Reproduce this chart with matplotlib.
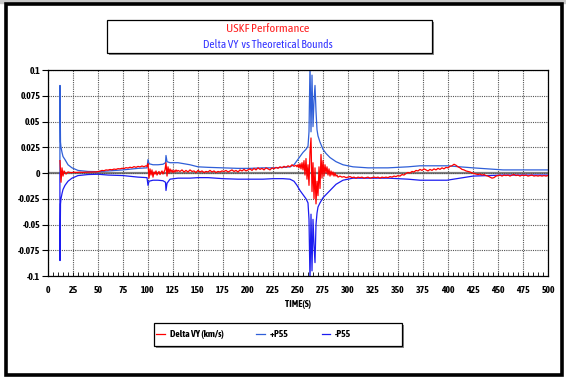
import numpy as np
import matplotlib
matplotlib.use('Agg')
import matplotlib.pyplot as plt
from matplotlib.patches import Rectangle
from matplotlib.ticker import MultipleLocator, FuncFormatter

# Delta VY (valeurs en 1e-3 km/s), par tronçons de pas de temps
dv_t_a = np.arange(12, 16, 1)
dv_a = [12, -9, 5, -3]
dv_t_b = np.arange(16, 100, 2)
dv_b = [2, -1, 1, 0.5, 0.4, 0.8, 0.5, 0.6, 0.8, 0.6, 0.7, 0.9, 0.8, 1.0, 0.9, 1.1, 1.0,
        1.4, 1.8, 2.5, 2.2, 3.0, 2.8, 3.4, 3.1, 3.8, 3.5, 4.2, 4.0, 4.6, 4.3, 5.2, 4.8,
        5.6, 5.1, 6.2, 5.5, 6.4, 5.9, 6.8, 6.1, 7.0]
dv_t_c = np.arange(99, 131, 1)
dv_c = [6.5, 9, -5, 4, -2, 3, -4, 1, -1, 2, -2, 0, 1.5, -1.5, 0.5, 2, -1, 1, 3, 10, -3,
        6, 0, 4, 1, 3, 0.5, 2.5, 1, 3, 1.5, 2.5]
dv_t_d = np.arange(132, 249, 2)
dv_d = [1.5, 3, 1, 2.5, 1, 3, 1.5, 2, 0.5, 2.5, 1, 2, 0.5, 1.5, 1, 2.5, 1, 2, 0.5, 1.5,
        1, 2, 1.5, 2.5, 1, 2, 3, 1.5, 2.5, 1, 3, 2, 3.5, 2, 3, 4, 2.5, 4.5, 3, 5, 3.5,
        4.5, 3, 5, 4, 3, 5, 4, 5.5, 4.5, 6, 5, 6.5, 5.5, 7, 6, 8, 6.5, 7.5]
dv_t_e = np.arange(249, 291, 1)
dv_e = [6, 8, 5, 9, 4, 10, 3, 12, -2, 14, -6, 8, -12, 20, 34, -18, 10, -25, 5, -30, -8,
        -22, 6, -15, 18, -5, 12, -3, 8, 0, 6, -2, 4, -3, 2, -2, 1, -3, 0, -3, -2, -4]
dv_t_f = np.arange(292, 501, 2)
dv_f = [-3, -4, -3.5, -4.5, -4, -3.5, -4.5, -4, -5, -4, -4.5, -4, -5, -4.5, -4, -5, -4.5,
        -4, -4.5, -4, -5, -4, -4.5, -4, -4.5, -3.5, -4, -3, -3.5, -2.5, -3, -1.5, -2,
        -0.5, 0.5, 0, 1.5, 1, 2.5, 2, 3.5, 2.5, 4, 3, 2, 3.5, 2.5, 4, 3, 4.5, 3.5, 5, 4,
        5.5, 5, 6.5, 7, 8.5, 7.5, 6, 5, 3.5, 3, 2, 1.5, 1, 0, -0.5, -1, -1.5, -1, -2,
        -1.5, -2.5, -3, -4, -5, -4.5, -3, -2.5, -2, -3, -2, -2.5, -2, -3, -2, -1.5, -2.5,
        -2, -3, -2, -2.5, -2, -3, -2.5, -2, -3, -2.5, -3, -2.5, -3, -2.5, -3, -2.5]

# bornes théoriques (1e-3 km/s)
bnd_t = [11.9, 12, 12.5, 13, 14, 15, 17, 20, 24, 30, 40, 50, 60, 75, 90, 99, 100, 101,
         105, 110, 115, 117.5, 118, 119, 122, 130, 142, 150, 160, 175, 190, 202, 215,
         225, 235, 242, 246, 249, 252, 255, 258, 260, 261, 262, 263, 264, 265, 266, 267,
         268, 269, 270, 272, 275, 278, 282, 288, 295, 305, 320, 340, 360, 372, 385, 399,
         412, 425, 440, 455, 475, 500]
p55 = [0, 85, 30, 25, 20, 16, 13, 8, 5, 2.5, 1.5, 1.3, 2, 3, 4.5, 5, 13, 9, 8, 8, 8.5,
       10, 17, 11, 10, 10, 8, 6, 5.5, 5, 4.5, 4.5, 5, 5, 5.5, 6, 8, 12, 16, 20, 23, 26,
       40, 105, 40, 95, 45, 70, 85, 60, 42, 36, 30, 23, 19, 15, 11, 8, 6, 5, 5, 6, 7, 7,
       7, 6, 5, 4, 3, 3, 3]
m55 = [0, -85, -30, -25, -20, -16, -12, -8, -5, -2.5, -1.5, -1.2, -2, -2.5, -4, -4.5,
       -12, -8, -7, -7, -7.5, -9, -17, -10, -6, -5, -5, -4.5, -4.5, -5.5, -6, -6, -6,
       -5.5, -5.5, -6, -8, -12, -17, -21, -25, -29, -45, -105, -40, -95, -45, -70, -87,
       -50, -39, -33, -29, -24, -21, -17, -11, -7, -5, -5, -5, -6, -7, -7, -7, -5, -3,
       -2.5, -2, -2, -2]

x_ticks = np.arange(0, 501, 25)
y_ticks = np.arange(-0.1, 0.1001, 0.025)

dv_t = np.concatenate([dv_t_a, dv_t_b, dv_t_c, dv_t_d, dv_t_e, dv_t_f])
dv = np.array(dv_a + dv_b + dv_c + dv_d + dv_e + dv_f) * 1e-3
p55 = np.array(p55) * 1e-3
m55 = np.array(m55) * 1e-3

plt.rcParams['font.family'] = ['Asap Condensed', 'Archivo Narrow', 'DejaVu Sans']

W, H = 566, 378
fig = plt.figure(figsize=(W / 100, H / 100), dpi=100)


def box(x0, y0, w, h, z=1):
    # cadre blanc avec ombre grise décalée (en pixels depuis le coin haut gauche)
    fig.patches.append(Rectangle(((x0 + 2) / W, 1 - (y0 + h + 2) / H), w / W, h / H,
                                 transform=fig.transFigure, fc='#8a8a8a', ec='none', zorder=z))
    fig.patches.append(Rectangle((x0 / W, 1 - (y0 + h) / H), w / W, h / H,
                                 transform=fig.transFigure, fc='white', ec='black',
                                 lw=0.9, zorder=z + 1))


# bande grise en haut + cadre noir
fig.patches.append(Rectangle((0, 1 - 3 / H), 1, 3 / H, transform=fig.transFigure,
                             color='#c8c8c8', zorder=0))
fig.patches.append(Rectangle((6 / W, 3 / H), 556 / W, 371 / H, transform=fig.transFigure,
                             fill=False, lw=2.6, ec='black', zorder=1))

box(107, 20, 325, 33)
fig.text(268 / W, 1 - 28 / H, 'USKF Performance', color='#ff2020', fontsize=8.8,
         ha='center', va='center', zorder=3)
fig.text(268 / W, 1 - 45 / H, 'Delta VY  vs Theoretical Bounds', color='#3333ff',
         fontsize=8.2, ha='center', va='center', zorder=3)

ax = fig.add_axes([48 / W, 1 - 276 / H, 500 / W, 206 / H])
ax.axhline(0, color='#808080', lw=1.6, zorder=1)
l1, = ax.plot(dv_t, dv, color='#ff0000', lw=0.9, label='Delta VY (km/s)', zorder=3)
l2, = ax.plot(bnd_t, p55, color='#2f5fd8', lw=0.9, label='+P55', zorder=2)
l3, = ax.plot(bnd_t, m55, color='#1c1cf0', lw=0.9, label='-P55', zorder=2)

ax.set_xlim(0, 500)
ax.set_ylim(-0.1, 0.1)
ax.set_xticks(x_ticks)
ax.set_yticks(y_ticks)
ax.xaxis.set_minor_locator(MultipleLocator(5))
ax.yaxis.set_major_formatter(FuncFormatter(lambda v, p: '0' if abs(v) < 1e-9 else f'{round(v, 3):g}'))
ax.grid(True, which='major', color='#555555', lw=0.8, ls=(0, (1, 1)))
ax.tick_params(axis='x', which='both', direction='in', length=3, width=0.6, pad=7,
               labelsize=7)
ax.tick_params(axis='y', which='major', direction='out', length=4, width=0.8, pad=1.5,
               labelsize=7)
for lab in ax.get_xticklabels() + ax.get_yticklabels():
    lab.set_fontweight('bold')
for s in ax.spines.values():
    s.set_linewidth(0.9)
ax.set_xlabel('TIME(S)', fontsize=7, fontweight='bold', labelpad=4)

# légende : cadre dessiné à part, entrées sans cadre
box(154, 323, 248, 23, z=4)
leg = fig.legend(handles=[l1, l2, l3], loc='center left',
                 bbox_to_anchor=(152 / W, 1 - 334.5 / H), ncol=3, frameon=False,
                 borderaxespad=0, handlelength=0.9, handletextpad=0.5, columnspacing=3.4,
                 prop={'weight': 'bold', 'size': 7})
leg.set_zorder(6)

fig.savefig('out.png', dpi=100)
